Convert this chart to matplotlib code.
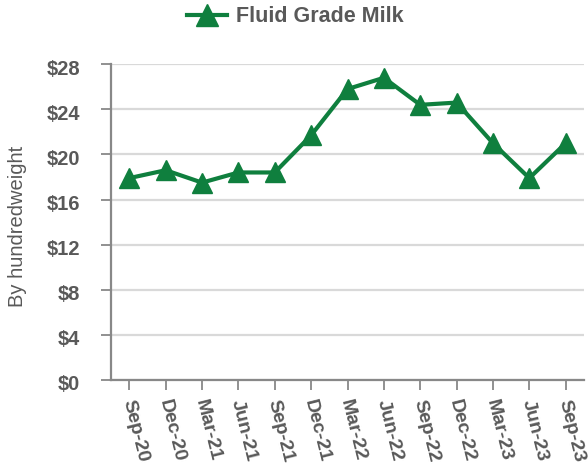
import matplotlib
matplotlib.use("Agg")
import matplotlib.pyplot as plt
import matplotlib.transforms as mtransforms

categories = ["Sep-20", "Dec-20", "Mar-21", "Jun-21", "Sep-21", "Dec-21", "Mar-22",
              "Jun-22", "Sep-22", "Dec-22", "Mar-23", "Jun-23", "Sep-23"]
fluid_milk = [17.9, 18.6, 17.5, 18.4, 18.4, 21.7, 25.8, 26.8, 24.4, 24.6, 21.0, 17.9, 21.0]
y_ticks = [0, 4, 8, 12, 16, 20, 24, 28]
y_tick_labels = ["$0", "$4", "$8", "$12", "$16", "$20", "$24", "$28"]

plt.rcParams['font.family'] = ['Liberation Sans', 'DejaVu Sans']
green = "#0F7F3E"
gray = "#595959"

fig = plt.figure(figsize=(5.88, 4.69), dpi=100)
ax = fig.add_axes([0.189, 0.19, 0.804, 0.673])

x = list(range(len(categories)))
ax.plot(x, fluid_milk, color=green, lw=3, marker='^', markersize=14,
        label="Fluid Grade Milk", zorder=3, clip_on=False)

ax.set_xlim(-0.5, len(categories) - 0.5)
ax.set_ylim(0, 28)
ax.set_yticks(y_ticks)
ax.set_yticklabels(y_tick_labels, fontsize=14.5, fontweight='bold', color=gray)
ax.set_xticks(x)
ax.set_xticklabels(categories, fontsize=14, fontweight='bold', color=gray,
                   rotation=-76, rotation_mode='anchor', ha='left', va='center')
ax.tick_params(axis='y', length=7.5, width=1.3, color='#888888', pad=15)
ax.tick_params(axis='x', length=7.5, width=1.3, color='#888888', pad=7)

offset = mtransforms.ScaledTranslation(0, -3 / 100, fig.dpi_scale_trans)
for lab in ax.get_yticklabels():
    lab.set_transform(lab.get_transform() + offset)
xoffset = mtransforms.ScaledTranslation(-2 / 100, 0, fig.dpi_scale_trans)
for lab in ax.get_xticklabels():
    lab.set_transform(lab.get_transform() + xoffset)

ax.grid(axis='y', color='#D9D9D9', lw=1.6)
ax.set_axisbelow(True)
for s in ['top', 'right']:
    ax.spines[s].set_visible(False)
for s in ['left', 'bottom']:
    ax.spines[s].set_color('#888888')
    ax.spines[s].set_linewidth(1.6)

ax.set_ylabel("By hundredweight", fontsize=14.5, color=gray)
ax.yaxis.label.set_va('center')
ax.yaxis.set_label_coords(-0.197, 0.486)

leg = fig.legend(loc='center', bbox_to_anchor=(0.503, 0.964), frameon=False,
                 prop={'weight': 'bold', 'size': 15.5}, handlelength=1.86,
                 handletextpad=0.42, markerscale=1.1)
for t in leg.get_texts():
    t.set_color(gray)

fig.savefig("out.png", dpi=100)
